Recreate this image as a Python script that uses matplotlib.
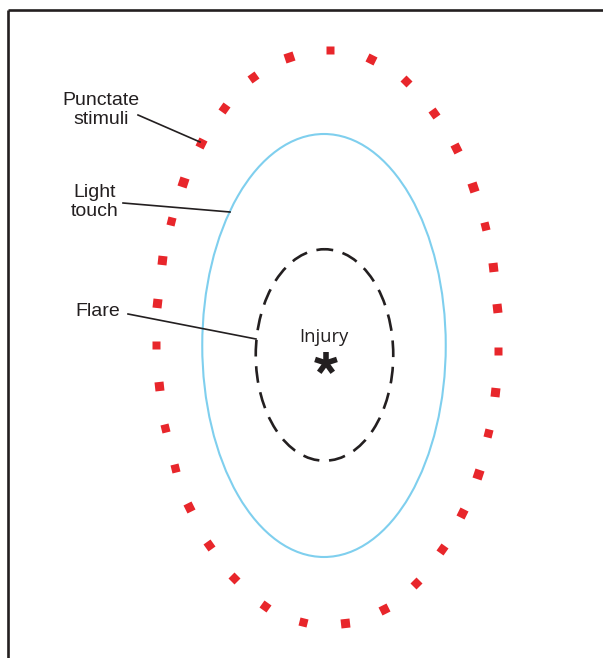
import numpy as np
import matplotlib
matplotlib.use("Agg")
import matplotlib.pyplot as plt
from matplotlib.patches import Ellipse
from matplotlib.markers import MarkerStyle
from matplotlib.transforms import Affine2D

# Punctate stimuli points (pixel coordinates, y downward)
punct_x = [330, 371, 406, 434, 456, 473, 485, 493, 497, 498, 495, 488,
           478, 462, 442, 416, 384, 345, 303, 265, 234, 209, 189, 175,
           165, 159, 156, 157, 162, 171, 183, 201, 224, 253, 289]
punct_y = [50, 59, 81, 113, 148, 187, 226, 267, 308, 351, 392, 433,
           474, 513, 549, 583, 609, 623, 622, 606, 578, 545, 507, 468,
           428, 386, 345, 303, 260, 221, 182, 143, 108, 77, 57]

# Light touch ellipse (center x, center y, width, height)
touch_ellipse = (324, 345.5, 243.5, 423)
# Flare ellipse
flare_ellipse = (324.5, 355, 137.5, 211.5)

injury_pos = (323.5, 337)
asterisk_pos = (326, 363)

labels = ["Punctate\nstimuli", "Light\ntouch", "Flare"]
label_pos = [(101, 110), (95, 202), (98, 311)]
leader_start = [(138, 115), (123, 203), (128, 314)]
leader_end = [(200, 142), (230, 212), (256, 339)]

W, H = 603, 658
fig = plt.figure(figsize=(W / 100, H / 100), dpi=100)
ax = fig.add_axes([0, 0, 1, 1])
ax.set_xlim(0, W)
ax.set_ylim(H, 0)
ax.axis("off")

# frame lines (left and top)
ax.plot([8, 8], [10, H], color="#231f20", lw=1.9, solid_capstyle="butt")
ax.plot([8, W], [10, 10], color="#231f20", lw=1.9, solid_capstyle="butt")

cx, cy, w, h = touch_ellipse
ax.add_patch(Ellipse((cx, cy), w, h, fill=False, ec="#7fcfee", lw=1.5))

cx, cy, w, h = flare_ellipse
lw = 1.9
ell = Ellipse((cx, cy), w, h, fill=False, ec="#231f20", lw=lw,
              linestyle=(3, (12.0 / lw, 7.0 / lw)))
ax.add_patch(ell)

# punctate squares, rotated along the path
n = len(punct_x)
for i in range(n):
    dx = punct_x[(i + 1) % n] - punct_x[i - 1]
    dy = punct_y[(i + 1) % n] - punct_y[i - 1]
    ang = np.degrees(np.arctan2(-dy, dx))
    m = MarkerStyle("s", transform=Affine2D().rotate_deg(ang))
    ax.plot(punct_x[i], punct_y[i], marker=m, ms=6.3, color="#e8262b",
            mec="none", ls="none")

for (lx, ly), t in zip(label_pos, labels):
    ax.text(lx, ly, t, ha="center", va="center", fontsize=14,
            family="Liberation Sans", color="#231f20", linespacing=1.2)
for (x0, y0), (x1, y1) in zip(leader_start, leader_end):
    ax.plot([x0, x1], [y0, y1], color="#231f20", lw=1.2)

ax.text(injury_pos[0], injury_pos[1], "Injury", ha="center", va="center",
        fontsize=13.2, family="Open Sans", color="#231f20")

# five-armed bold asterisk
ax_, ay_ = asterisk_pos
arm = 11.5
for k in range(5):
    a = np.radians(90 + 72 * k)
    ax.plot([ax_, ax_ + arm * np.cos(a)], [ay_, ay_ - arm * np.sin(a)],
            color="#231f20", lw=4.0, solid_capstyle="butt")

fig.savefig("out.png", dpi=100)
